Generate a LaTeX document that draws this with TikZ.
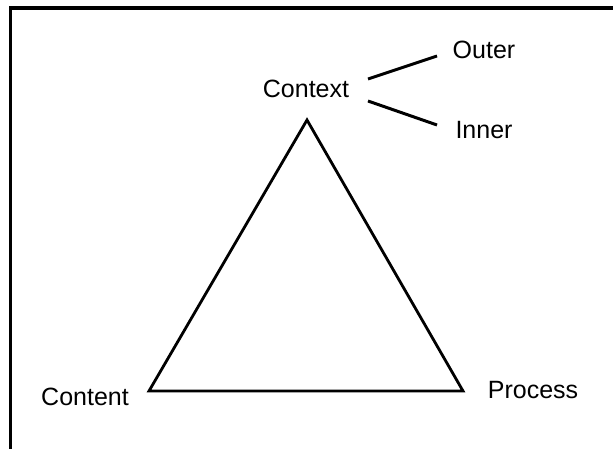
\documentclass[tikz,border=0pt]{standalone}
\usepackage{fontspec}
\setmainfont{Liberation Sans}
\begin{document}
\begin{tikzpicture}[x=1pt,y=-1pt,
  lbl/.style={font=\fontsize{25}{29}\selectfont, inner sep=0pt},
  edge/.style={line width=3pt},
  tri/.style={line width=2.8pt, line join=miter}]
\useasboundingbox (0,0) rectangle (613,449);
\draw[line width=3.2pt] (10.5,460) -- (10.5,8) -- (630,8);
\coordinate (apex) at (307,120);
\coordinate (bl) at (149,391);
\coordinate (br) at (463,391);
\draw[tri] (apex) -- (bl) -- (br) -- cycle;
\node[lbl] (context) at (306,89) {Context};
\node[lbl] (outer) at (484,50) {Outer};
\node[lbl] (inner) at (484,130) {Inner};
\node[lbl] (content) at (85,397) {Content};
\node[lbl] (process) at (533,390) {Process};
\coordinate (o1) at (368,79);
\coordinate (o2) at (437,56);
\coordinate (i1) at (368,101);
\coordinate (i2) at (437,125);
\draw[edge] (o1) -- (o2);
\draw[edge] (i1) -- (i2);
\end{tikzpicture}
\end{document}
